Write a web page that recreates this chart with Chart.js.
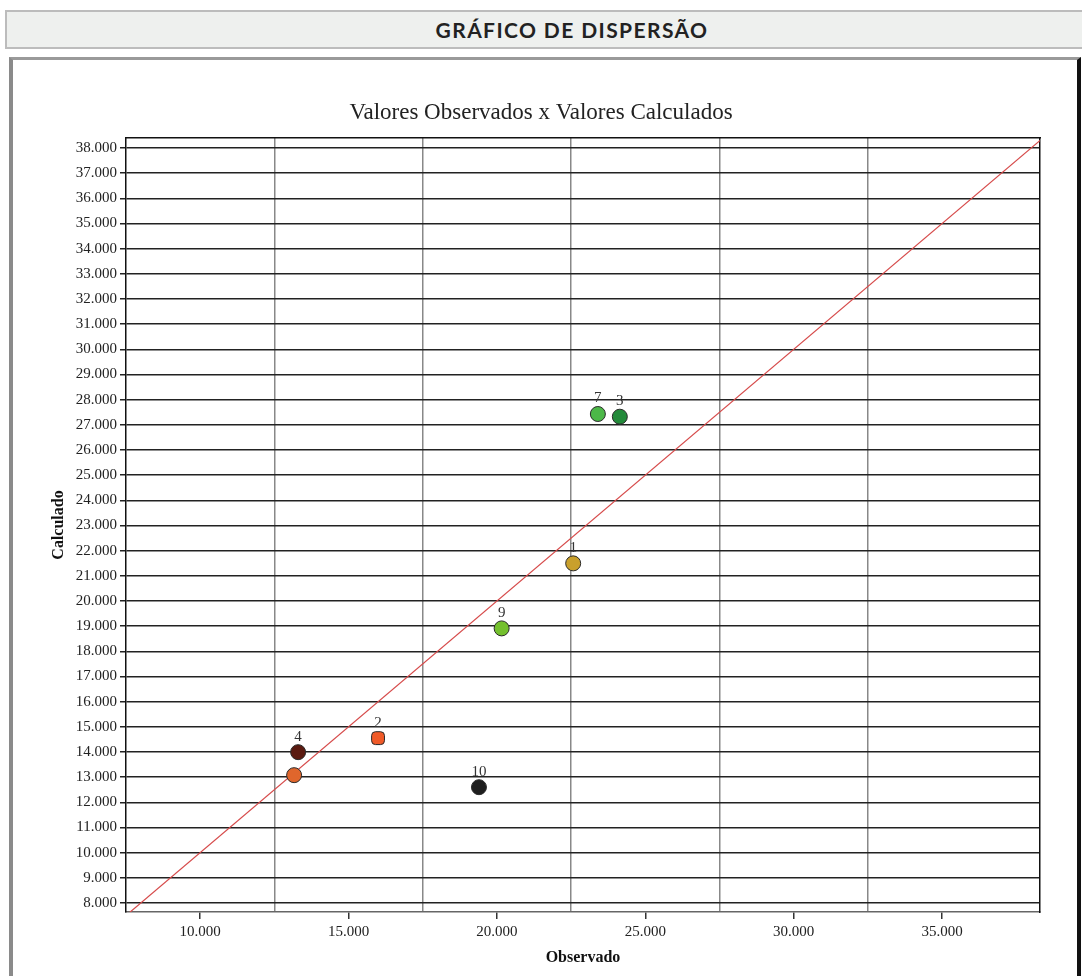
<!DOCTYPE html>
<html><head><meta charset="utf-8">
<script src="https://cdn.jsdelivr.net/npm/chart.js@4.4.1/dist/chart.umd.min.js"></script>
<style>
html,body{margin:0;padding:0;background:#fff;width:1082px;height:976px;overflow:hidden;position:relative;}
#hdr{position:absolute;left:5px;top:10px;width:1130px;height:35px;background:#eef0ee;border:2px solid #bcbcbc;text-align:center;font:700 21px Lato, "DejaVu Sans", sans-serif;letter-spacing:1.4px;line-height:35px;color:#222;}
#box{position:absolute;left:9px;top:57px;width:1064px;height:940px;border-left:4px solid #8a8a8a;border-top:3px solid #9a9a9a;border-right:4px solid #111;background:#fff;}
#c{position:absolute;left:0;top:0;}
</style></head>
<body>
<div id="hdr">GRÁFICO DE DISPERSÃO</div>
<div id="box"></div>
<canvas id="c" width="1082" height="976"></canvas>
<script>
const observed   = [22569, 15993, 24141, 13165, 13300, 20158, 23401, 19394];
const calculated = [21495, 14549, 27324, 13078, 13992, 18911, 27431, 12600];
const pointLabels = ['1', '2', '3', '', '4', '9', '7', '10'];
const pointColors = ['#c9a02c', '#f05a28', '#238a3a', '#e0662c', '#5a1a10', '#74c02e', '#4cb848', '#1e1e1e'];
const pointShapes = ['circle', 'rectRounded', 'circle', 'circle', 'circle', 'circle', 'circle', 'circle'];
const yTicks = [8000, 9000, 10000, 11000, 12000, 13000, 14000, 15000, 16000, 17000, 18000, 19000, 20000, 21000, 22000, 23000, 24000, 25000, 26000, 27000, 28000, 29000, 30000, 31000, 32000, 33000, 34000, 35000, 36000, 37000, 38000];
const xTickLabels = [10000, 15000, 20000, 25000, 30000, 35000];
const xGridLines = [12500, 17500, 22500, 27500, 32500];
const refLine = [7000, 39000];
const xRange = [7500, 38300];
const yRange = [7640, 38400];

const fmt = v => String(v).replace(/\B(?=(\d{3})+(?!\d))/g, '.');
const serif = '"Liberation Serif", "DejaVu Serif", serif';

const labelPlugin = {
  id: 'pointLabels',
  afterDatasetsDraw(chart) {
    const meta = chart.getDatasetMeta(1);
    const ctx = chart.ctx;
    ctx.save();
    ctx.font = '15px ' + serif;
    ctx.fillStyle = '#333';
    ctx.textAlign = 'center';
    ctx.textBaseline = 'bottom';
    meta.data.forEach((el, i) => {
      if (pointLabels[i]) ctx.fillText(pointLabels[i], el.x, el.y - 8);
    });
    ctx.restore();
  }
};

new Chart(document.getElementById('c'), {
  data: {
    datasets: [
      {
        type: 'line',
        data: refLine.map(v => ({x: v, y: v})),
        borderColor: '#d64a4a',
        borderWidth: 1.2,
        pointRadius: 0,
        order: 2
      },
      {
        type: 'scatter',
        data: observed.map((v, i) => ({x: v, y: calculated[i]})),
        backgroundColor: pointColors,
        borderColor: '#2a2a2a',
        borderWidth: 1,
        pointRadius: 7.5,
        pointStyle: pointShapes,
        order: 1
      }
    ]
  },
  options: {
    responsive: false,
    animation: false,
    devicePixelRatio: 1,
    layout: {padding: {left: 0, right: 0, top: 0, bottom: 0}},
    plugins: {
      legend: {display: false},
      tooltip: {enabled: false},
      title: {
        display: true,
        text: 'Valores Observados x Valores Calculados',
        font: {family: serif, size: 23, weight: 'normal'},
        color: '#222',
        padding: {top: 99, bottom: 11.4}
      }
    },
    scales: {
      x: {
        type: 'linear', position: 'bottom', min: xRange[0], max: xRange[1],
        afterBuildTicks: s => { s.ticks = xTickLabels.map(v => ({value: v})); },
        afterFit: s => { s.height = 64; },
        ticks: {callback: v => fmt(v), font: {family: serif, size: 15}, color: '#222', padding: 4, maxRotation: 0},
        grid: {drawOnChartArea: false, drawTicks: true, tickLength: 7, color: '#333', lineWidth: 1.5},
        border: {display: true, color: '#666', width: 1.5},
        title: {display: true, text: 'Observado', font: {family: serif, size: 16, weight: 'bold'}, color: '#111', padding: {top: 9, bottom: 9}}
      },
      xg: {
        type: 'linear', position: 'bottom', min: xRange[0], max: xRange[1],
        afterBuildTicks: s => { s.ticks = xGridLines.map(v => ({value: v})); },
        afterFit: s => { s.height = 0; },
        ticks: {display: false},
        grid: {drawOnChartArea: true, drawTicks: false, color: '#888', lineWidth: 1.5},
        border: {display: false}
      },
      xt: {
        type: 'linear', position: 'top', min: xRange[0], max: xRange[1],
        afterFit: s => { s.height = 0; },
        ticks: {display: false},
        grid: {drawOnChartArea: false, drawTicks: false},
        border: {display: true, color: '#111', width: 1.5}
      },
      y: {
        type: 'linear', position: 'left', min: yRange[0], max: yRange[1],
        afterBuildTicks: s => { s.ticks = yTicks.map(v => ({value: v})); },
        afterFit: s => { s.width = 126; },
        ticks: {callback: v => fmt(v), font: {family: serif, size: 15}, color: '#222', padding: 3, autoSkip: false},
        grid: {drawOnChartArea: true, drawTicks: true, tickLength: 6, color: '#222', lineWidth: 1.5},
        border: {display: true, color: '#111', width: 1.5},
        title: {display: true, text: 'Calculado', font: {family: serif, size: 16, weight: 'bold'}, color: '#111', padding: {top: 49, bottom: 4}}
      },
      yR: {
        type: 'linear', position: 'right', min: yRange[0], max: yRange[1],
        afterFit: s => { s.width = 42; },
        ticks: {display: false},
        grid: {drawOnChartArea: false, drawTicks: false},
        border: {display: true, color: '#111', width: 1.5}
      }
    }
  },
  plugins: [labelPlugin]
});
</script>
</body></html>
